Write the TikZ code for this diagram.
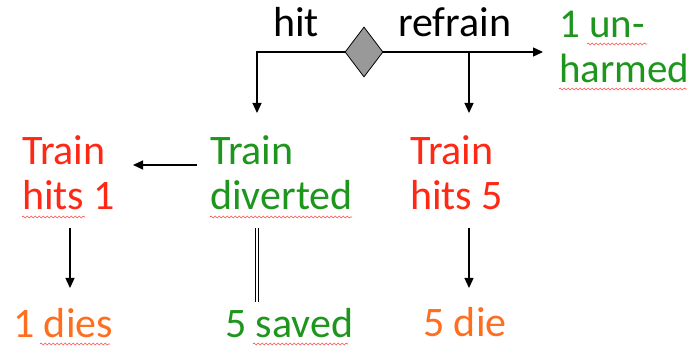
\documentclass[tikz,border=0pt]{standalone}
\usepackage{fontspec}
\setmainfont{Carlito}
\usetikzlibrary{shapes.geometric,arrows.meta,decorations.pathmorphing}

\definecolor{badred}{RGB}{255,40,20}
\definecolor{goodgreen}{RGB}{30,150,30}
\definecolor{deathorange}{RGB}{255,110,30}

\begin{document}
\begin{tikzpicture}[x=1pt, y=-1pt,
    every node/.style={inner sep=0pt, font=\fontsize{42}{45}\selectfont},
    lbl/.style={anchor=base west, align=left},
    arr/.style={line width=1.3pt, -{Triangle[width=9pt,length=10pt]}},
    squig/.style={red!70, line width=0.6pt, decorate,
        decoration={snake, amplitude=1pt, segment length=4pt}}]
            \useasboundingbox (0,0) rectangle (691,347);

            % Choice
            \node[diamond, draw, fill=black!40, line width=0.8pt,
                  minimum width=38pt, minimum height=50pt] (choice) at (364,52) {};
            \node[lbl] (hitlbl) at (273,37) {hit};
            \node[lbl] (refrainlbl) at (398,37) {refrain};
            % two-line nodes: base is the last line
            \node[lbl, text=goodgreen, font=\fontsize{41}{45}\selectfont] (unharmed) at (559,83) {1 un-\\harmed};

            % Outcomes
            \node[lbl, text=badred] (hitsone) at (22,210) {Train\\hits 1};
            \node[lbl, text=goodgreen] (diverted) at (210,210) {Train\\diverted};
            \node[lbl, text=badred] (hitsfive) at (410,210) {Train\\hits 5};
            \node[lbl, text=deathorange] (onedies) at (13,338) {1 dies};
            \node[lbl, text=goodgreen] (fivesaved) at (225,338) {5 saved};
            \node[lbl, text=deathorange] (fivedie) at (423,337) {5 die};

            % Bends and ends
            \coordinate (ltop) at (257,52);
            \coordinate (ltip) at (257,113);
            \coordinate (rtop) at (469,52);
            \coordinate (rtip) at (469,113);
            \coordinate (rend) at (543,52);
            \coordinate (divl) at (197,165);
            \coordinate (onel) at (133,165);
            \coordinate (onetop) at (70,228);
            \coordinate (onetip) at (70,288);
            \coordinate (fivetop) at (469,228);
            \coordinate (fivetip) at (469,288);
            \coordinate (savtop) at (257,228);
            \coordinate (savbot) at (257,302);

            % Edges
            \draw[arr] (choice.west) -- (ltop) -- (ltip);
            \draw[arr] (choice.east) -- (rend);
            \draw[arr] (rtop) -- (rtip);
            \draw[arr] (divl) -- (onel);
            \draw[arr] (onetop) -- (onetip);
            \draw[arr] (fivetop) -- (fivetip);
            \draw[double, double distance=2.5pt, line width=0.8pt] (savtop) -- (savbot);

            % Spelling marks
            \draw[squig] (587,44) -- (647,44);
            \draw[squig] (559,89) -- (687,89);
            \draw[squig] (22,217) -- (85,217);
            \draw[squig] (210,217) -- (352,217);
            \draw[squig] (40,344) -- (110,344);
            \draw[squig] (253,344) -- (348,344);
        \end{tikzpicture}
\end{document}
